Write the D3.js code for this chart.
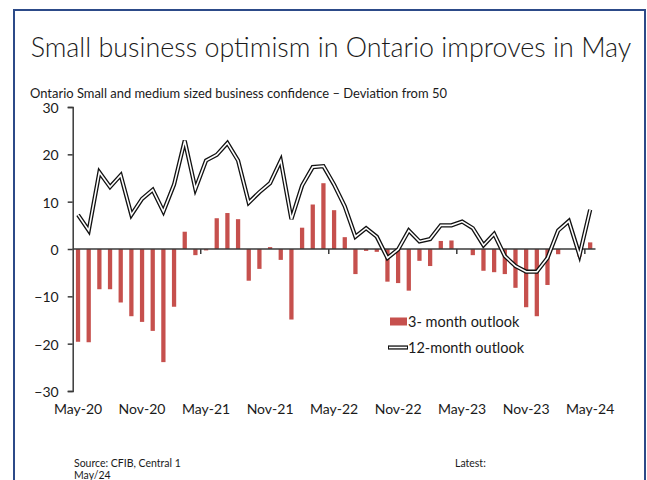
<!DOCTYPE html>
<html>
<head>
<meta charset="utf-8">
<script src="https://cdn.jsdelivr.net/npm/d3@7"></script>
<style>
  html, body { margin: 0; padding: 0; background: #fff; }
  svg { display: block; }
  text { font-family: Lato, "Open Sans", sans-serif; fill: #1a1a1a; }
</style>
</head>
<body>
<svg id="chart" width="647" height="480"></svg>
<script>
const months = [
  "May-20","Jun-20","Jul-20","Aug-20","Sep-20","Oct-20","Nov-20","Dec-20","Jan-21","Feb-21","Mar-21","Apr-21",
  "May-21","Jun-21","Jul-21","Aug-21","Sep-21","Oct-21","Nov-21","Dec-21","Jan-22","Feb-22","Mar-22","Apr-22",
  "May-22","Jun-22","Jul-22","Aug-22","Sep-22","Oct-22","Nov-22","Dec-22","Jan-23","Feb-23","Mar-23","Apr-23",
  "May-23","Jun-23","Jul-23","Aug-23","Sep-23","Oct-23","Nov-23","Dec-23","Jan-24","Feb-24","Mar-24","Apr-24",
  "May-24"
];
const outlook3m = [
  -19.6,-19.7,-8.5,-8.5,-11.3,-14.2,-15.4,-17.3,-23.9,-12.2,3.65,-1.3,
  -0.3,6.5,7.6,6.3,-6.7,-4.2,0.4,-2.3,-14.9,4.5,9.4,13.9,
  8.2,2.5,-5.3,-0.4,-0.6,-6.9,-7.2,-8.8,-2.5,-3.6,1.7,1.8,
  0,-1.3,-4.6,-4.9,-5.3,-8.2,-12.3,-14.2,-7.6,-1.1,0,-1.6,
  1.4
];
const outlook12m = [
  7.2,3.9,16.2,13.1,15.6,7.2,10.6,12.5,7.9,13.6,22.9,12.7,
  18.7,19.9,22.4,18.7,9.8,12.0,13.9,18.7,6.3,13.4,17.3,17.5,
  13.6,9.0,2.6,4.4,2.6,-1.9,-0.1,3.9,1.6,2.1,5.0,5.0,
  5.8,4.4,0.8,3.2,-1.5,-3.6,-4.8,-4.8,-1.9,3.9,5.9,-1.3,
  8.3
];
const yTicks = [-30,-20,-10,0,10,20,30];
const xLabels = ["May-20","Nov-20","May-21","Nov-21","May-22","Nov-22","May-23","Nov-23","May-24"];
const xTickBoundaries = ["May-21","May-22","May-23","May-24"];
const seriesNames = ["3- month outlook","12-month outlook"];
const titleText = "Small business optimism in Ontario improves in May";
const subtitleText = "Ontario Small and medium sized business confidence \u2013 Deviation from 50";

const svg = d3.select("#chart");
const barColor = "#c6504d";
const axisColor = "#3a3a3a";

// frame
svg.append("path")
  .attr("d", "M14,482 L14,10 L645,10 L645,482")
  .attr("fill", "none").attr("stroke", "#2c4a88").attr("stroke-width", 2);

// title
const title = svg.append("text").attr("x", 331).attr("y", 57)
  .attr("text-anchor", "middle").style("font-size", "27px").style("font-weight", 300).text(titleText);
(function fit(){ const w = title.node().getComputedTextLength(); const target = 601;
  title.style("font-size", (27 * target / w).toFixed(2) + "px"); })();

const sub = svg.append("text").attr("x", 30).attr("y", 97.5)
  .style("font-size", "12px").text(subtitleText);
(function fit(){ const w = sub.node().getComputedTextLength(); const target = 417;
  sub.style("font-size", (12 * target / w).toFixed(2) + "px"); })();

const x = d3.scaleBand().domain(months).range([72.7, 595.5]).paddingInner(0).paddingOuter(0);
const y = d3.scaleLinear().domain([-30, 30]).range([391, 107]);
const step = x.bandwidth();

// bars
svg.append("g").selectAll("rect").data(outlook3m).join("rect")
  .attr("x", (d, i) => x(months[i]) + step * 0.3)
  .attr("width", step * 0.4)
  .attr("y", d => y(Math.max(0, d)))
  .attr("height", d => Math.abs(y(d) - y(0)))
  .attr("fill", barColor);

// y axis
const yAxis = d3.axisLeft(y).tickValues(yTicks).tickSize(5).tickPadding(9).tickFormat(d3.format("d"));
const yg = svg.append("g").attr("transform", "translate(72.7,0)").call(yAxis);
yg.select(".domain").attr("stroke", axisColor).attr("stroke-width", 1.5);
yg.selectAll(".tick line").attr("stroke", axisColor).attr("stroke-width", 1.5);
yg.selectAll(".tick text").style("font-size", "14px").attr("fill", "#1a1a1a")
  .style("font-family", "Lato, sans-serif").attr("dy", "0.4em");

// x axis line at zero
svg.append("line").attr("x1", x.range()[0]).attr("x2", x.range()[1])
  .attr("y1", y(0)).attr("y2", y(0)).attr("stroke", axisColor).attr("stroke-width", 1.5);
svg.append("g").selectAll("line").data(xTickBoundaries).join("line")
  .attr("x1", d => x(d)).attr("x2", d => x(d))
  .attr("y1", y(0)).attr("y2", y(0) + 5)
  .attr("stroke", axisColor).attr("stroke-width", 1.5);

// x labels
svg.append("g").selectAll("text").data(xLabels).join("text")
  .attr("x", d => x(d) + step / 2).attr("y", 414)
  .attr("text-anchor", "middle").style("font-size", "14px").text(d => d);

// 12-month line (double line)
const line = d3.line().x((d, i) => x(months[i]) + step / 2).y(d => y(d));
svg.append("path").datum(outlook12m).attr("d", line)
  .attr("fill", "none").attr("stroke", "#111").attr("stroke-width", 4.2).attr("stroke-linejoin", "miter");
svg.append("path").datum(outlook12m).attr("d", line)
  .attr("fill", "none").attr("stroke", "#fff").attr("stroke-width", 1.6).attr("stroke-linejoin", "miter");

// legend
const lg = svg.append("g");
lg.append("rect").attr("x", 390).attr("y", 317.5).attr("width", 17).attr("height", 8).attr("fill", barColor);
lg.append("text").attr("x", 408).attr("y", 327).style("font-size", "14.5px").text(seriesNames[0]);
lg.append("line").attr("x1", 388).attr("x2", 408).attr("y1", 347.5).attr("y2", 347.5)
  .attr("stroke", "#111").attr("stroke-width", 4.2);
lg.append("line").attr("x1", 389).attr("x2", 407).attr("y1", 347.5).attr("y2", 347.5)
  .attr("stroke", "#fff").attr("stroke-width", 1.6);
lg.append("text").attr("x", 408).attr("y", 352.5).style("font-size", "14.5px").text(seriesNames[1]);

// footer
svg.append("text").attr("x", 74).attr("y", 467).style("font-size", "10.5px").text("Source: CFIB, Central 1");
svg.append("text").attr("x", 74).attr("y", 479).style("font-size", "10.5px").text("May/24");
svg.append("text").attr("x", 455).attr("y", 467).style("font-size", "10.5px").text("Latest:");
</script>
</body>
</html>
